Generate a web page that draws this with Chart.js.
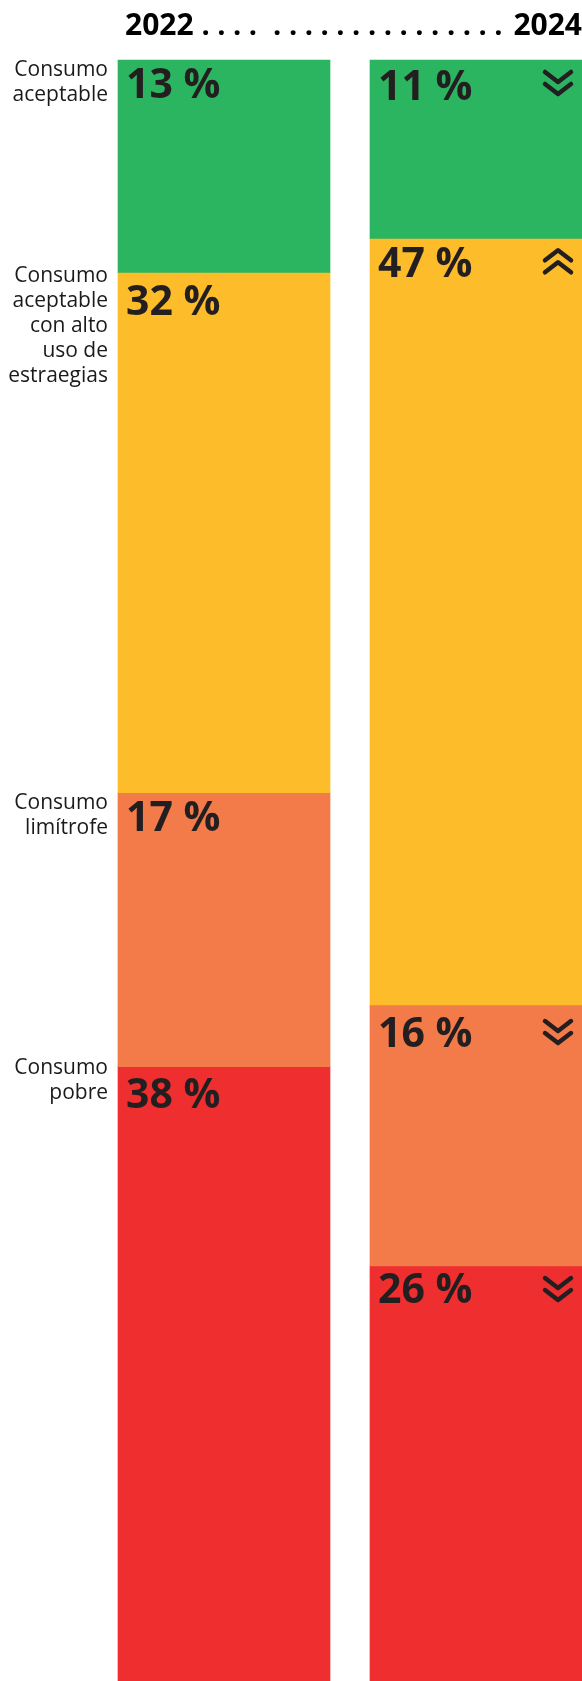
<!DOCTYPE html>
<html><head><meta charset="utf-8">
<script src="https://cdn.jsdelivr.net/npm/chart.js@4.4.1/dist/chart.umd.min.js"></script>
<style>html,body{margin:0;padding:0;background:#fff;overflow:hidden}canvas{display:block}</style>
</head><body>
<canvas id="c" width="582" height="1681"></canvas>
<script>
// ---- data ----
const years = ["2022", "2024"];
const categories = ["Consumo aceptable", "Consumo aceptable con alto uso de estraegias", "Consumo limítrofe", "Consumo pobre"];
const categoryLines = [["Consumo", "aceptable"], ["Consumo", "aceptable", "con alto", "uso de", "estraegias"], ["Consumo", "limítrofe"], ["Consumo", "pobre"]];
const values2022 = [13.1, 32.1, 16.9, 37.9];
const values2024 = [11.0, 47.3, 16.1, 25.6];
const labels2022 = ["13 %", "32 %", "17 %", "38 %"];
const labels2024 = ["11 %", "47 %", "16 %", "26 %"];
const trend2024 = ["down", "up", "down", "down"];
const headerDotsLeft = ". . . .";
const headerDotsRight = ". . . . . . . . . . . . . . .";

// ---- styles / placement ----
const colors = ["#2cb561", "#fdbc2a", "#f37a49", "#ee2e2f"];
const ink = "#231f20";
const catLabelOffsets = [10, 4, 10, 1];
const pctOffsets = [[26, 31, 27, 30], [28, 27, 30, 25]];
const chevOffsets = [23, 23, 27, 23];

const labelPlugin = {
  id: "labels",
  afterDatasetsDraw(chart) {
    const ctx = chart.ctx;
    const pctLabels = [labels2022, labels2024];
    ctx.save();
    // header
    const first = chart.getDatasetMeta(0).data[0];
    const second = chart.getDatasetMeta(0).data[1];
    const x0 = first.x - first.width / 2 + 7;
    const x1 = second.x + second.width / 2;
    ctx.fillStyle = "#000";
    ctx.textBaseline = "alphabetic";
    ctx.font = 'bold 30px "Open Sans"';
    ctx.textAlign = "left";
    ctx.fillText(years[0], x0, 35);
    const wl = ctx.measureText(years[0] + " ").width;
    ctx.textAlign = "right";
    ctx.fillText(years[1], x1, 35);
    const wr = ctx.measureText(" " + years[1]).width;
    ctx.font = 'bold 29px "Open Sans"';
    ctx.textAlign = "left";
    ctx.fillText(headerDotsLeft, x0 + wl, 35);
    ctx.textAlign = "right";
    ctx.fillText(headerDotsRight, x1 - wr - 3, 35);

    categories.forEach((cat, i) => {
      const meta = chart.getDatasetMeta(i);
      meta.data.forEach((el, j) => {
        const top = Math.min(el.y, el.base);
        const left = el.x - el.width / 2;
        const right = el.x + el.width / 2;
        ctx.fillStyle = ink;
        ctx.font = 'bold 41px "Open Sans"';
        ctx.textAlign = "left";
        ctx.textBaseline = "middle";
        ctx.fillText(pctLabels[j][i], left + 8, top + pctOffsets[j][i]);
        if (j === 1) {
          drawChevrons(ctx, right - 24, top + chevOffsets[i], trend2024[i]);
        }
        if (j === 0) {
          ctx.fillStyle = "#1a1a1a";
          ctx.font = '21px "Open Sans"';
          ctx.textAlign = "right";
          ctx.textBaseline = "middle";
          categoryLines[i].forEach((ln, k) => {
            ctx.fillText(ln, left - 10, top + catLabelOffsets[i] + k * 25);
          });
        }
      });
    });
    ctx.restore();
  }
};

function drawChevrons(ctx, cx, cy, dir) {
  const w = 13, h = 10, gap = 12;
  ctx.save();
  ctx.strokeStyle = ink;
  ctx.lineWidth = 4.5;
  ctx.lineCap = "round";
  ctx.lineJoin = "round";
  [-1, 1].forEach(k => {
    const yc = cy + k * gap / 2;
    ctx.beginPath();
    if (dir === "down") {
      ctx.moveTo(cx - w, yc - h / 2); ctx.lineTo(cx, yc + h / 2); ctx.lineTo(cx + w, yc - h / 2);
    } else {
      ctx.moveTo(cx - w, yc + h / 2); ctx.lineTo(cx, yc - h / 2); ctx.lineTo(cx + w, yc + h / 2);
    }
    ctx.stroke();
  });
  ctx.restore();
}

function draw() {
  new Chart(document.getElementById("c"), {
    type: "bar",
    data: {
      labels: years,
      datasets: categories.map((cat, i) => ({
        label: cat,
        data: [values2022[i], values2024[i]],
        backgroundColor: colors[i],
        borderWidth: 0,
        barThickness: 212,
        clip: false
      }))
    },
    options: {
      responsive: false,
      animation: false,
      devicePixelRatio: 1,
      layout: { padding: { top: 60, bottom: 0, left: 224, right: 106 } },
      plugins: { legend: { display: false }, tooltip: { enabled: false } },
      scales: {
        x: { type: "category", display: false, offset: false, stacked: true },
        y: { display: false, stacked: true, min: 0, max: 100, reverse: true }
      }
    },
    plugins: [labelPlugin]
  });
}
Promise.all([
  document.fonts.load('bold 41px "Open Sans"'),
  document.fonts.load('21px "Open Sans"')
]).then(draw, draw);
</script>
</body></html>
